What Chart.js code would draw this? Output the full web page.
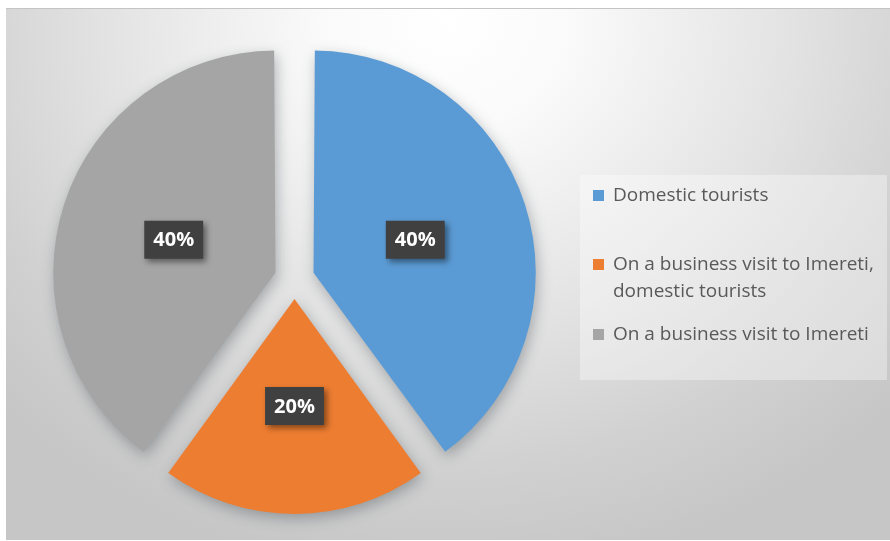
<!DOCTYPE html>
<html>
<head>
<meta charset="utf-8">
<script src="https://cdn.jsdelivr.net/npm/chart.js@4.4.1/dist/chart.umd.min.js"></script>
<style>
    html, body { margin: 0; padding: 0; width: 890px; height: 541px; overflow: hidden; background: #fff; }
    #frame {
        position: absolute; left: 6px; top: 8px; width: 884px; height: 531px;
        border-top: 1px solid #c4c4c4;
        background: radial-gradient(ellipse 70% 105% at 50% 2%, #ffffff 0%, #fafafa 20%, #e3e3e3 55%, #d1d1d1 80%, #c6c6c6 100%);
    }
    #pie { position: absolute; left: 0; top: 0; }
    #legend {
        position: absolute; left: 580px; top: 175px; width: 307px; height: 205px;
        background: rgba(255, 255, 255, 0.35);
        font-family: "Open Sans", sans-serif; font-size: 19px; color: #595959;
    }
    .item { position: absolute; left: 13px; line-height: 27px; }
    .item .swatch { position: absolute; left: 0; top: 9px; width: 11px; height: 11px; }
    .item .text { margin-left: 20px; white-space: nowrap; }
</style>
</head>
<body>
<div id="frame"></div>
<canvas id="pie" width="890" height="541"></canvas>
<div id="legend"></div>
<script>
    const categories = ['Domestic tourists', 'On a business visit to Imereti, domestic tourists', 'On a business visit to Imereti'];
    const legendLines = [['Domestic tourists'], ['On a business visit to Imereti,', 'domestic tourists'], ['On a business visit to Imereti']];
    const shares = [40, 20, 40];
    const sliceColors = ['#5b9bd5', '#ed7d31', '#a5a5a5'];

    // soft drop shadow under the slices
    const sliceShadow = {
        id: 'sliceShadow',
        beforeDatasetsDraw(chart) {
            const ctx = chart.ctx;
            ctx.save();
            ctx.shadowColor = 'rgba(60, 70, 80, 0.38)';
            ctx.shadowBlur = 14;
            ctx.shadowOffsetX = 2;
            ctx.shadowOffsetY = 5;
        },
        afterDatasetsDraw(chart) {
            chart.ctx.restore();
        }
    };

    // percentage tags in dark boxes, placed half way out along each slice
    const percentTags = {
        id: 'percentTags',
        afterDatasetsDraw(chart) {
            const ctx = chart.ctx;
            const meta = chart.getDatasetMeta(0);
            const total = shares.reduce((a, b) => a + b, 0);
            meta.data.forEach((arc, i) => {
                const { x, y, startAngle, endAngle, outerRadius } = arc.getProps(['x', 'y', 'startAngle', 'endAngle', 'outerRadius'], true);
                const mid = (startAngle + endAngle) / 2;
                // arcs are pushed out by a quarter of the offset option
                const dist = arc.options.offset / 4 + outerRadius * 0.5;
                const px = x + Math.cos(mid) * dist;
                const py = y + Math.sin(mid) * dist;
                const label = Math.round(shares[i] / total * 100) + '%';
                ctx.save();
                ctx.font = 'bold 20px "Open Sans", sans-serif';
                const w = ctx.measureText(label).width + 18;
                const h = 38;
                ctx.shadowColor = 'rgba(0, 0, 0, 0.45)';
                ctx.shadowBlur = 6;
                ctx.shadowOffsetX = 3;
                ctx.shadowOffsetY = 3;
                ctx.fillStyle = '#404040';
                ctx.fillRect(px - w / 2, py - h / 2, w, h);
                ctx.shadowColor = 'transparent';
                ctx.fillStyle = '#ffffff';
                ctx.textAlign = 'center';
                ctx.textBaseline = 'middle';
                ctx.fillText(label, px, py + 1);
                ctx.restore();
            });
        }
    };

    new Chart(document.getElementById('pie').getContext('2d'), {
        type: 'pie',
        data: {
            labels: categories,
            datasets: [{
                data: shares,
                backgroundColor: sliceColors,
                borderWidth: 0,
                offset: 80,
                hoverOffset: 0
            }]
        },
        options: {
            responsive: false,
            animation: false,
            layout: { padding: { top: 25, bottom: 8, left: 40, right: 341 } },
            plugins: { legend: { display: false }, tooltip: { enabled: false } }
        },
        plugins: [sliceShadow, percentTags]
    });

    // legend on the right
    const legend = document.getElementById('legend');
    const itemTops = [6, 75, 145];
    legendLines.forEach((lines, i) => {
        const item = document.createElement('div');
        item.className = 'item';
        item.style.top = itemTops[i] + 'px';
        item.innerHTML = `<span class="swatch" style="background:${sliceColors[i]}"></span><div class="text">${lines.join('<br>')}</div>`;
        legend.appendChild(item);
    });
</script>
</body>
</html>
